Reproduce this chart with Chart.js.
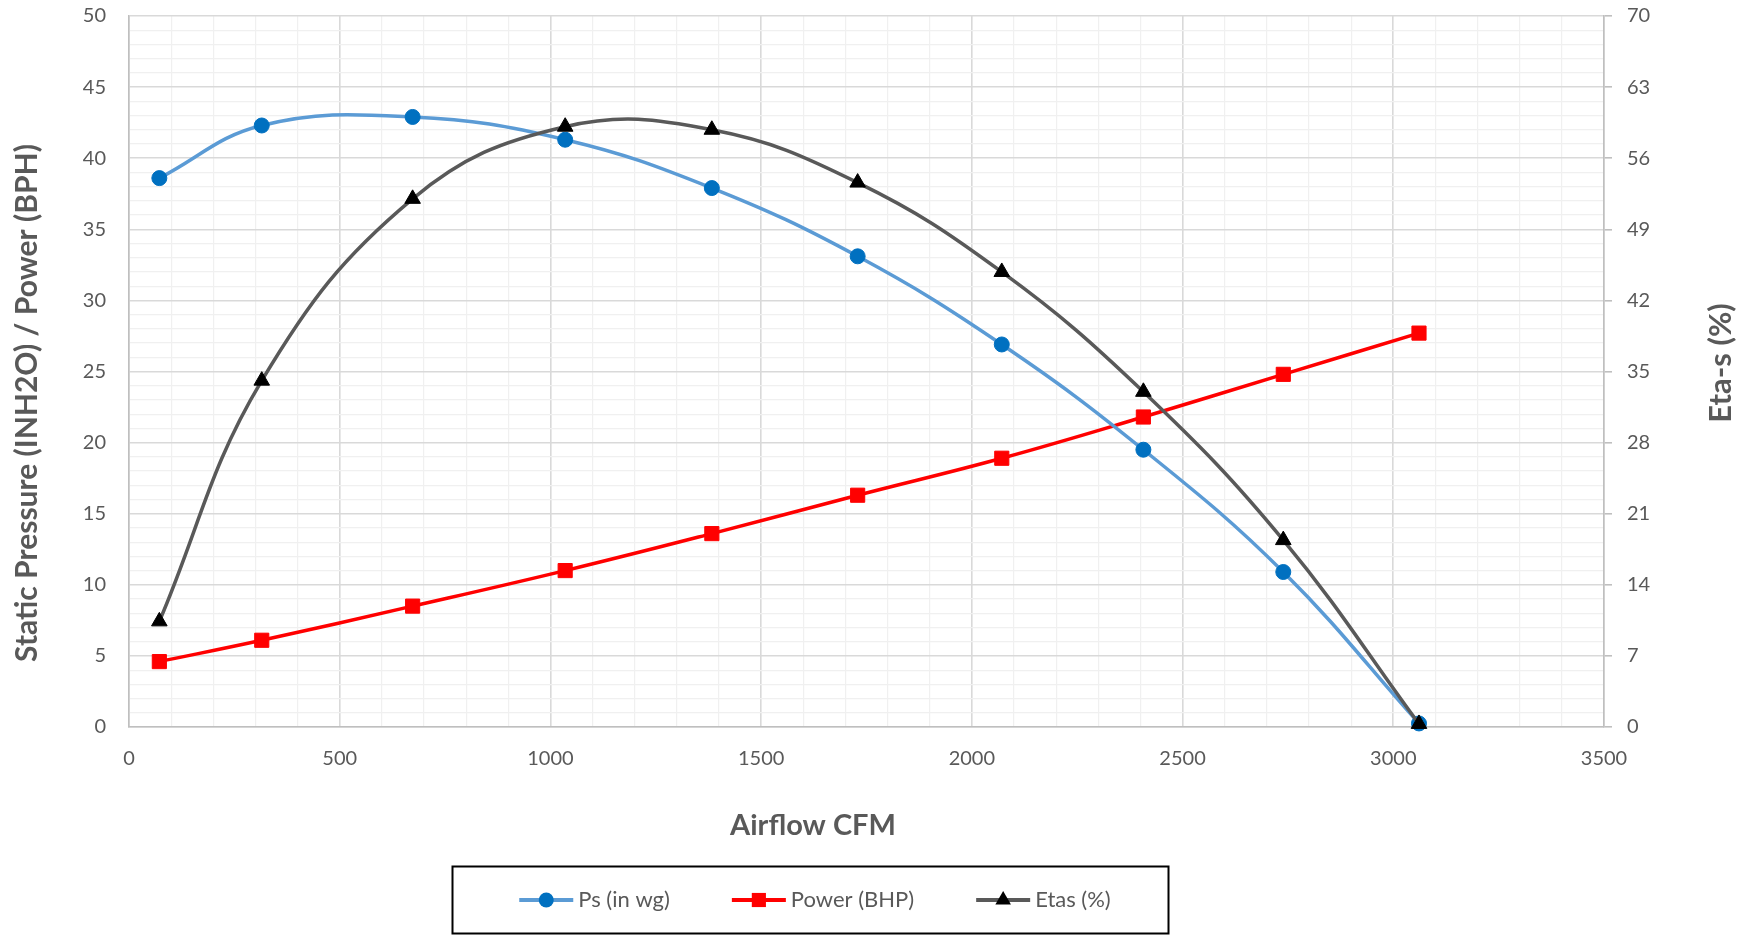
<!DOCTYPE html>
<html>
<head>
<meta charset="utf-8">
<title>Fan curve</title>
<script src="https://cdn.jsdelivr.net/npm/chart.js@4.4.1/dist/chart.umd.min.js"></script>
<style>
  html, body { margin: 0; padding: 0; background: #fff; }
  #wrap { width: 1743px; height: 935px; }
</style>
</head>
<body>
<div id="wrap"><canvas id="fan-chart" width="1743" height="935"></canvas></div>
<script>
// values
const airflow = [72, 315, 673, 1035, 1383, 1729, 2071, 2407, 2739, 3061];
const psInWg = [38.6, 42.3, 42.9, 41.3, 37.9, 33.1, 26.9, 19.5, 10.9, 0.25];
const powerBhp = [4.6, 6.1, 8.5, 11.0, 13.6, 16.3, 18.9, 21.8, 24.8, 27.7];
const etasPct = [10.4, 34.1, 52.0, 59.1, 58.8, 53.6, 44.8, 33.0, 18.4, 0.3];
const seriesNames = ['Ps (in wg)', 'Power (BHP)', 'Etas (%)'];
const xTitle = 'Airflow CFM';
const yLeftTitle = 'Static Pressure (INH2O) / Power (BPH)';
const yRightTitle = 'Eta-s (%)';

const textGray = '#595959';
const majorGrid = '#D9D9D9';
const minorGrid = '#F0F0F0';
const axisGray = '#BFBFBF';

Chart.defaults.font.family = 'Lato';
Chart.defaults.color = textGray;

const pts = (ys) => airflow.map((x, i) => ({ x: x, y: ys[i] }));

function drawMarker(ctx, style, x, y, r, color) {
  ctx.fillStyle = color;
  ctx.beginPath();
  if (style === 'circle') {
    ctx.arc(x, y, r, 0, Math.PI * 2);
  } else if (style === 'rect') {
    const s = r * Math.SQRT1_2;
    ctx.rect(x - s, y - s, 2 * s, 2 * s);
  } else {
    ctx.moveTo(x, y - r);
    ctx.lineTo(x + r * 0.866, y + r / 2);
    ctx.lineTo(x - r * 0.866, y + r / 2);
    ctx.closePath();
  }
  ctx.fill();
}

function rotatedText(ctx, text, x, y) {
  ctx.save();
  ctx.translate(x, y);
  ctx.rotate(-Math.PI / 2);
  ctx.fillText(text, 0, 0);
  ctx.restore();
}

// axis titles placed like the Excel original, plus the boxed legend
const extraText = {
  id: 'extraText',
  afterDraw(chart) {
    const ctx = chart.ctx;
    ctx.save();
    ctx.fillStyle = textGray;
    ctx.textBaseline = 'middle';
    ctx.textAlign = 'center';
    ctx.font = 'bold 29px Lato';
    ctx.fillText(xTitle, 813, 826);
    ctx.font = 'bold 30px Lato';
    rotatedText(ctx, yLeftTitle, 27, 403);
    ctx.font = 'bold 31px Lato';
    rotatedText(ctx, yRightTitle, 1721, 363);

    // legend
    ctx.strokeStyle = '#000';
    ctx.lineWidth = 2;
    ctx.strokeRect(452.5, 866.5, 716, 67);

    ctx.font = '22px Lato';
    ctx.textAlign = 'left';
    const symW = 54, gap = 5, between = 62, cy = 900;
    const items = chart.data.datasets.map(ds => ({
      ds: ds,
      w: symW + gap + ctx.measureText(ds.label).width
    }));
    const total = items.reduce((s, it) => s + it.w, 0) + between * (items.length - 1);
    let x = 815 - total / 2;
    items.forEach(it => {
      const ds = it.ds;
      ctx.strokeStyle = ds.borderColor;
      ctx.lineWidth = 4;
      ctx.beginPath();
      ctx.moveTo(x, cy);
      ctx.lineTo(x + symW, cy);
      ctx.stroke();
      drawMarker(ctx, ds.pointStyle, x + symW / 2, cy, ds.pointRadius, ds.pointBackgroundColor);
      ctx.fillStyle = textGray;
      ctx.fillText(ds.label, x + symW + gap, cy);
      x += it.w + between;
    });
    ctx.restore();
  }
};

const fanData = {
  datasets: [
    {
      label: seriesNames[0],
      data: pts(psInWg),
      yAxisID: 'y',
      borderColor: '#5B9BD5',
      borderWidth: 3.5,
      pointStyle: 'circle',
      pointRadius: 7.5,
      pointBackgroundColor: '#0070C0',
      pointBorderColor: '#0070C0',
      pointBorderWidth: 1,
      tension: 0.4,
      clip: false,
      order: 1,
    },
    {
      label: seriesNames[1],
      data: pts(powerBhp),
      yAxisID: 'y',
      borderColor: '#FF0000',
      borderWidth: 3.5,
      pointStyle: 'rect',
      pointRadius: 10,
      pointBackgroundColor: '#FF0000',
      pointBorderColor: '#FF0000',
      pointBorderWidth: 1,
      tension: 0.4,
      clip: false,
      order: 2,
    },
    {
      label: seriesNames[2],
      data: pts(etasPct),
      yAxisID: 'y2',
      borderColor: '#595959',
      borderWidth: 3.5,
      pointStyle: 'triangle',
      pointRadius: 9,
      pointBackgroundColor: '#000000',
      pointBorderColor: '#000000',
      pointBorderWidth: 1,
      tension: 0.4,
      clip: false,
      order: 0,
    },
  ],
};

// keep the plot box where Excel had it
const fitVertical = (w) => (scale) => {
  scale.width = w;
  scale.paddingTop = 10;
  scale.paddingBottom = 10;
};

const fanOptions = {
  responsive: false,
  animation: false,
  layout: { padding: { top: 16, left: 0, right: 0, bottom: 0 } },
  plugins: {
    legend: { display: false },
    tooltip: { enabled: false },
  },
  scales: {
    x: {
      type: 'linear',
      min: 0,
      max: 3500,
      afterFit: (scale) => { scale.height = 208; },
      ticks: {
        stepSize: 100,
        maxTicksLimit: 100,
        autoSkip: false,
        maxRotation: 0,
        minRotation: 0,
        padding: 20,
        font: { size: 20 },
        color: textGray,
        callback: (v) => (v % 500 === 0 ? v : ''),
      },
      grid: {
        drawTicks: false,
        color: (c) => (c.tick && c.tick.value % 500 === 0 ? majorGrid : minorGrid),
        lineWidth: (c) => (c.tick && c.tick.value % 500 === 0 ? 1.6 : 1.2),
      },
      border: { color: axisGray, width: 1.6 },
    },
    y: {
      position: 'left',
      min: 0,
      max: 50,
      afterFit: fitVertical(129),
      ticks: {
        stepSize: 1,
        maxTicksLimit: 100,
        autoSkip: false,
        padding: 23,
        font: { size: 20 },
        color: textGray,
        callback: (v) => (v % 5 === 0 ? v : ''),
      },
      grid: {
        drawTicks: false,
        color: (c) => (c.tick && c.tick.value % 5 === 0 ? majorGrid : minorGrid),
        lineWidth: (c) => (c.tick && c.tick.value % 5 === 0 ? 1.6 : 1.2),
      },
      border: { color: axisGray, width: 1.6 },
    },
    y2: {
      position: 'right',
      min: 0,
      max: 70,
      afterFit: fitVertical(139),
      ticks: {
        stepSize: 7,
        autoSkip: false,
        padding: 15,
        font: { size: 20 },
        color: textGray,
      },
      grid: {
        drawOnChartArea: false,
        tickLength: 8,
        color: axisGray,
        lineWidth: 1.6,
      },
      border: { color: axisGray, width: 1.6 },
    },
  },
};

new Chart(document.getElementById('fan-chart').getContext('2d'), {
  type: 'line',
  data: fanData,
  options: fanOptions,
  plugins: [extraText],
});
</script>
</body>
</html>
